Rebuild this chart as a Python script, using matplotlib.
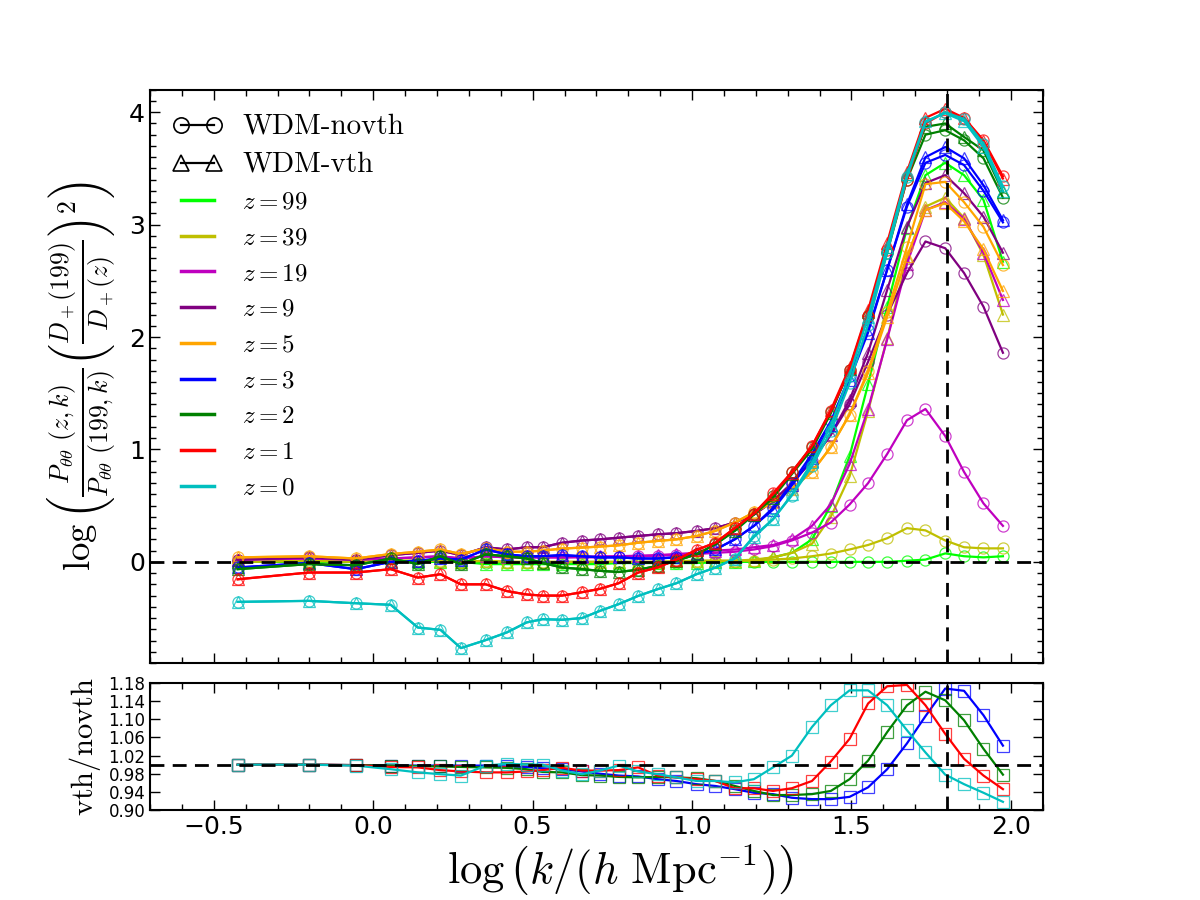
import numpy as np
import matplotlib
matplotlib.use("Agg")
import matplotlib.pyplot as plt
from matplotlib.lines import Line2D

plt.rcParams["mathtext.fontset"] = "cm"
plt.rcParams["xtick.direction"] = "in"
plt.rcParams["ytick.direction"] = "in"

# log10(k) bins
logk = [-0.425, -0.202, -0.055, 0.055, 0.140, 0.211, 0.275, 0.353, 0.419, 0.481,
        0.531, 0.592, 0.655, 0.711, 0.770, 0.831, 0.892, 0.951, 1.014, 1.073,
        1.134, 1.194, 1.254, 1.313, 1.376, 1.435, 1.494, 1.552, 1.612, 1.674,
        1.732, 1.794, 1.853, 1.914, 1.975]

redshifts = ["99", "39", "19", "9", "5", "3", "2", "1", "0"]
colors = ["#00ff00", "y", "m", "purple", "orange", "b", "g", "r", "c"]

# upper panel: log of normalised velocity-divergence power, novth (circles)
z99_novth = [0.0, 0.0, 0.0, 0.0, 0.0, 0.0, 0.0, -0.01, -0.01, -0.01,
             -0.01, -0.01, -0.01, -0.01, -0.01, -0.01, -0.01, -0.01, -0.01, 0.0,
             0.0, 0.0, 0.0, 0.0, 0.0, 0.0, 0.0, 0.0, 0.0, 0.01,
             0.02, 0.075, 0.05, 0.04, 0.05]
z39_novth = [0.0, 0.01, 0.0, 0.01, 0.01, 0.01, 0.0, 0.01, 0.0, 0.0,
             0.0, 0.0, 0.0, 0.0, 0.0, 0.0, 0.0, 0.005, 0.01, 0.01,
             0.01, 0.01, 0.02, 0.03, 0.05, 0.074, 0.11, 0.15, 0.21, 0.30,
             0.28, 0.19, 0.13, 0.12, 0.12]
z19_novth = [0.02, 0.03, 0.02, 0.03, 0.04, 0.05, 0.03, 0.05, 0.04, 0.04,
             0.04, 0.04, 0.04, 0.04, 0.045, 0.05, 0.055, 0.06, 0.07, 0.08,
             0.09, 0.11, 0.14, 0.19, 0.26, 0.35, 0.51, 0.70, 0.96, 1.26,
             1.36, 1.12, 0.80, 0.52, 0.32]
z9_novth = [0.02, 0.04, 0.02, 0.06, 0.08, 0.10, 0.06, 0.13, 0.11, 0.13,
            0.13, 0.17, 0.19, 0.20, 0.215, 0.23, 0.245, 0.255, 0.275, 0.30,
            0.35, 0.42, 0.54, 0.70, 0.90, 1.13, 1.40, 1.78, 2.20, 2.57,
            2.85, 2.79, 2.57, 2.27, 1.86]
z5_novth = [0.04, 0.05, 0.03, 0.07, 0.09, 0.11, 0.07, 0.12, 0.09, 0.09,
            0.10, 0.118, 0.127, 0.136, 0.147, 0.17, 0.186, 0.20, 0.23, 0.275,
            0.35, 0.44, 0.53, 0.65, 0.80, 1.02, 1.31, 1.70, 2.22, 2.80,
            3.36, 3.38, 3.20, 2.98, 2.64]
z3_novth = [-0.05, -0.01, -0.065, 0.0, 0.01, 0.03, 0.02, 0.11, 0.067, 0.05,
            0.05, 0.06, 0.05, 0.04, 0.04, 0.03, 0.03, 0.04, 0.067, 0.11,
            0.20, 0.32, 0.48, 0.70, 0.96, 1.25, 1.65, 2.06, 2.60, 3.16,
            3.55, 3.62, 3.53, 3.30, 3.02]
z2_novth = [-0.065, -0.02, -0.03, 0.03, -0.02, 0.05, -0.02, 0.067, 0.05, 0.03,
            -0.01, -0.05, -0.065, -0.08, -0.09, -0.07, -0.036, 0.01, 0.067, 0.156,
            0.28, 0.43, 0.59, 0.80, 1.02, 1.33, 1.71, 2.19, 2.75, 3.40,
            3.80, 3.84, 3.75, 3.59, 3.24]
z1_novth = [-0.155, -0.095, -0.095, -0.065, -0.14, -0.11, -0.20, -0.20, -0.26, -0.29,
            -0.30, -0.30, -0.27, -0.24, -0.19, -0.095, -0.05, 0.02, 0.106, 0.17,
            0.30, 0.43, 0.61, 0.80, 1.03, 1.34, 1.71, 2.19, 2.77, 3.40,
            3.90, 4.00, 3.95, 3.75, 3.43]
z0_novth = [-0.356, -0.347, -0.368, -0.382, -0.584, -0.605, -0.767, -0.696, -0.628, -0.539,
            -0.51, -0.515, -0.50, -0.436, -0.376, -0.303, -0.243, -0.19, -0.11, -0.051,
            0.029, 0.23, 0.38, 0.59, 0.85, 1.16, 1.59, 2.11, 2.75, 3.42,
            3.91, 4.00, 3.94, 3.72, 3.34]

# same, WDM with thermal velocities (triangles)
z99_vth = [0.0, 0.0, 0.0, 0.0, 0.0, 0.0, 0.0, -0.02, -0.02, -0.02,
           -0.02, -0.02, -0.02, -0.02, -0.01, -0.01, -0.01, -0.01, -0.01, 0.0,
           0.0, 0.01, 0.04, 0.08, 0.20, 0.50, 0.94, 1.58, 2.27, 2.97,
           3.44, 3.55, 3.44, 3.22, 2.67]
z39_vth = [0.0, 0.01, 0.0, 0.01, 0.01, 0.01, 0.0, 0.01, 0.0, 0.0,
           0.0, 0.0, 0.0, 0.0, 0.0, 0.0, 0.0, 0.005, 0.01, 0.01,
           0.01, 0.02, 0.04, 0.08, 0.16, 0.40, 0.76, 1.34, 1.99, 2.70,
           3.16, 3.24, 3.06, 2.73, 2.20]
z19_vth = [0.02, 0.03, 0.02, 0.03, 0.04, 0.05, 0.03, 0.05, 0.04, 0.04,
           0.04, 0.04, 0.045, 0.05, 0.05, 0.055, 0.06, 0.07, 0.08, 0.10,
           0.11, 0.13, 0.15, 0.20, 0.32, 0.51, 0.87, 1.36, 1.98, 2.65,
           3.13, 3.20, 3.05, 2.75, 2.33]
z9_vth = [0.02, 0.04, 0.02, 0.06, 0.08, 0.10, 0.06, 0.13, 0.11, 0.13,
          0.13, 0.17, 0.19, 0.20, 0.215, 0.23, 0.245, 0.255, 0.275, 0.30,
          0.35, 0.42, 0.54, 0.70, 0.90, 1.13, 1.44, 1.86, 2.42, 2.98,
          3.37, 3.44, 3.28, 3.07, 2.75]
z5_vth = [0.04, 0.05, 0.03, 0.07, 0.09, 0.11, 0.07, 0.12, 0.09, 0.09,
          0.10, 0.118, 0.127, 0.136, 0.147, 0.17, 0.186, 0.20, 0.23, 0.275,
          0.35, 0.44, 0.53, 0.65, 0.80, 1.02, 1.31, 1.68, 2.18, 2.72,
          3.13, 3.19, 3.03, 2.78, 2.41]
z3_vth = [-0.05, -0.01, -0.065, 0.0, 0.01, 0.03, 0.02, 0.11, 0.067, 0.05,
          0.05, 0.06, 0.05, 0.04, 0.04, 0.03, 0.03, 0.04, 0.067, 0.11,
          0.20, 0.32, 0.465, 0.68, 0.925, 1.215, 1.62, 2.04, 2.60, 3.18,
          3.60, 3.69, 3.59, 3.35, 3.04]
z2_vth = [-0.065, -0.02, -0.03, 0.03, -0.02, 0.05, -0.02, 0.067, 0.05, 0.03,
          -0.01, -0.05, -0.065, -0.08, -0.09, -0.07, -0.036, 0.01, 0.067, 0.156,
          0.275, 0.42, 0.57, 0.78, 1.00, 1.32, 1.72, 2.22, 2.80, 3.45,
          3.87, 3.90, 3.78, 3.66, 3.29]
z1_vth = [-0.155, -0.095, -0.095, -0.065, -0.14, -0.11, -0.20, -0.20, -0.26, -0.29,
          -0.30, -0.30, -0.27, -0.24, -0.19, -0.095, -0.05, 0.02, 0.106, 0.17,
          0.30, 0.43, 0.60, 0.79, 1.03, 1.35, 1.73, 2.24, 2.84, 3.47,
          3.95, 4.03, 3.95, 3.74, 3.41]
z0_vth = [-0.356, -0.347, -0.368, -0.382, -0.584, -0.605, -0.767, -0.696, -0.628, -0.539,
          -0.51, -0.515, -0.50, -0.436, -0.376, -0.303, -0.243, -0.19, -0.11, -0.051,
          0.029, 0.22, 0.378, 0.60, 0.885, 1.21, 1.66, 2.18, 2.80, 3.45,
          3.92, 3.99, 3.92, 3.69, 3.30]

novth = [z99_novth, z39_novth, z19_novth, z9_novth, z5_novth,
         z3_novth, z2_novth, z1_novth, z0_novth]
vth = [z99_vth, z39_vth, z19_vth, z9_vth, z5_vth,
       z3_vth, z2_vth, z1_vth, z0_vth]

# lower panel: P_vth / P_novth
ratio_z3 = [1.0, 1.0, 0.999, 0.998, 0.998, 0.998, 0.998, 0.998, 0.996, 0.995,
            0.992, 0.99, 0.985, 0.98, 0.976, 0.974, 0.968, 0.964, 0.957, 0.953,
            0.946, 0.938, 0.935, 0.927, 0.924, 0.924, 0.929, 0.95, 0.99, 1.047,
            1.107, 1.168, 1.163, 1.109, 1.042]
ratio_z2 = [1.0, 1.0, 0.999, 0.998, 0.997, 0.996, 0.995, 0.994, 0.993, 0.99,
            0.984, 0.983, 0.977, 0.976, 0.973, 0.972, 0.973, 0.972, 0.97, 0.964,
            0.953, 0.942, 0.933, 0.933, 0.935, 0.942, 0.968, 1.009, 1.072, 1.131,
            1.161, 1.142, 1.098, 1.035, 0.978]
ratio_z1 = [1.0, 1.0, 0.999, 0.995, 0.994, 0.988, 0.985, 0.983, 0.983, 0.985,
            0.988, 0.993, 0.987, 0.987, 0.988, 0.994, 0.976, 0.972, 0.968, 0.964,
            0.948, 0.948, 0.942, 0.948, 0.964, 1.007, 1.057, 1.135, 1.173, 1.176,
            1.131, 1.068, 1.013, 0.976, 0.946]
ratio_z0 = [1.0, 1.0, 0.998, 0.99, 0.983, 0.979, 0.976, 0.998, 1.002, 1.0,
            1.0, 0.987, 0.979, 0.987, 0.998, 0.985, 0.979, 0.972, 0.964, 0.964,
            0.961, 0.968, 0.994, 1.02, 1.083, 1.131, 1.164, 1.164, 1.131, 1.076,
            1.027, 0.978, 0.957, 0.938, 0.918]
ratios = [ratio_z3, ratio_z2, ratio_z1, ratio_z0]
ratio_colors = ["b", "g", "r", "c"]

k_cut = 1.8

fig = plt.figure(figsize=(12, 9), dpi=100)
ax1 = fig.add_axes([0.125, 0.2633, 0.744, 0.637])
ax2 = fig.add_axes([0.125, 0.1, 0.744, 0.141])

dash = (0, (5, 3))
mk = dict(ms=8, mfc="none", mew=0.9, alpha=0.75)
for c, yn, yv in zip(colors, novth, vth):
    ax1.plot(logk, yn, color=c, lw=1.6, zorder=2)
    ax1.plot(logk, yn, ls="none", marker="o", mec=c, **mk, zorder=2)
    ax1.plot(logk, yv, color=c, lw=1.6, zorder=2)
    ax1.plot(logk, yv, ls="none", marker="^", mec=c, **mk, zorder=2)

ax1.axhline(0, color="k", lw=2, ls=dash, zorder=3)
ax1.axvline(k_cut, color="k", lw=2, ls=dash, zorder=3)
ax1.set_xlim(-0.7, 2.1)
ax1.set_ylim(-0.9, 4.2)
ax1.set_xticks([-0.5, 0.0, 0.5, 1.0, 1.5, 2.0])
ax1.set_xticklabels([])
ax1.set_yticks([0, 1, 2, 3, 4])
ax1.set_ylabel(r"$\log\left(\frac{P_{\theta\theta}\ (z,k)}{P_{\theta\theta}\ (199,k)}"
               r"\left(\frac{D_+(199)}{D_+(z)}\right)^2\right)$", fontsize=26.5, labelpad=9)

handles = [Line2D([], [], color="k", lw=1.6, marker="o", mfc="none", ms=11, mew=1.2),
           Line2D([], [], color="k", lw=1.6, marker="^", mfc="none", ms=11, mew=1.2)]
labels = ["WDM-novth", "WDM-vth"]
for c, z in zip(colors, redshifts):
    handles.append(Line2D([], [], color=c, lw=2.5))
    labels.append(r"$z=" + z + "$")
leg = ax1.legend(handles, labels, loc="upper left", frameon=False, numpoints=2,
                 fontsize=18, handlelength=1.9, handletextpad=0.85, labelspacing=0.47,
                 borderaxespad=0.55)
for t in leg.get_texts()[:2]:
    t.set_fontfamily("cmr10")
    t.set_fontsize(21)

for c, r in zip(ratio_colors, ratios):
    ax2.plot(logk, r, color=c, lw=1.6)
    ax2.plot(logk, r, ls="none", marker="s", mec=c, ms=8, mfc="none", mew=0.9, alpha=0.75)
ax2.axhline(1.0, color="k", lw=2, ls=dash)
ax2.axvline(k_cut, color="k", lw=2, ls=dash)
ax2.set_xlim(-0.7, 2.1)
ax2.set_ylim(0.90, 1.18)
ax2.set_xticks([-0.5, 0.0, 0.5, 1.0, 1.5, 2.0])
ax2.set_yticks([0.90, 0.94, 0.98, 1.02, 1.06, 1.10, 1.14, 1.18])
ax2.set_yticklabels(["%.2f" % v for v in [0.90, 0.94, 0.98, 1.02, 1.06, 1.10, 1.14, 1.18]])
ax2.set_ylabel(r"$\mathrm{vth/novth}$", fontsize=22, labelpad=4)
ax2.set_xlabel(r"$\log\left(k/(h\ \mathrm{Mpc}^{-1})\right)$", fontsize=32, labelpad=4)
ax2.xaxis.label.set_x(0.527)

for ax in (ax1, ax2):
    ax.minorticks_on()
    ax.tick_params(which="both", top=True, right=True)
    ax.tick_params(which="major", length=7, width=1)
    ax.tick_params(which="minor", length=4, width=1)
    for s in ax.spines.values():
        s.set_linewidth(1.5)
ax1.tick_params(axis="y", labelsize=18)
ax2.tick_params(axis="x", labelsize=18)
ax2.tick_params(axis="y", labelsize=12)
ax2.yaxis.set_minor_locator(matplotlib.ticker.NullLocator())
ax1.yaxis.set_minor_locator(matplotlib.ticker.MultipleLocator(0.1))
for ax in (ax1, ax2):
    ax.xaxis.set_minor_locator(matplotlib.ticker.MultipleLocator(0.1))

fig.savefig("out.png", dpi=100)
